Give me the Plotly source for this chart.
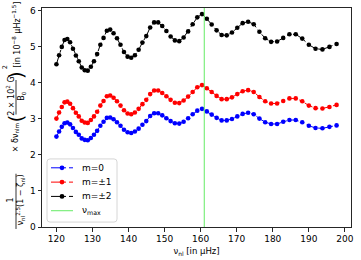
import plotly.graph_objects as go

# ---- data ----
nu = [120.00, 120.74, 121.49, 122.25, 123.02, 123.80, 124.59, 125.39, 126.20, 127.02,
      127.85, 128.69, 129.55, 130.41, 131.29, 132.18, 133.07, 133.99, 134.91, 135.85,
      136.80, 137.77, 138.74, 139.74, 140.74, 141.76, 142.80, 143.85, 144.92, 146.00,
      147.10, 148.22, 149.35, 150.50, 151.67, 152.85, 154.06, 155.28, 156.53, 157.79,
      159.07, 160.38, 161.71, 163.06, 164.43, 165.82, 167.24, 168.69, 170.16, 171.65,
      173.17, 174.72, 176.30, 177.90, 179.54, 181.20, 182.90, 184.62, 186.38, 188.18,
      190.01, 191.87, 193.78, 195.72, 197.70]

split_m0 = [2.51, 2.65, 2.78, 2.88, 2.90, 2.85, 2.75, 2.64, 2.56, 2.46,
            2.42, 2.41, 2.47, 2.56, 2.67, 2.81, 2.92, 3.03, 3.04, 2.99,
            2.91, 2.81, 2.70, 2.63, 2.61, 2.65, 2.73, 2.84, 2.94, 3.08,
            3.16, 3.16, 3.10, 3.02, 2.94, 2.88, 2.87, 2.92, 3.02, 3.13,
            3.23, 3.28, 3.21, 3.12, 3.03, 2.96, 2.96, 3.00, 3.07, 3.14,
            3.17, 3.13, 3.01, 2.91, 2.86, 2.86, 2.92, 2.97, 2.97, 2.91,
            2.81, 2.75, 2.74, 2.78, 2.82]

split_m1 = [3.01, 3.18, 3.33, 3.46, 3.48, 3.42, 3.30, 3.17, 3.07, 2.95,
            2.90, 2.89, 2.97, 3.07, 3.20, 3.37, 3.50, 3.63, 3.65, 3.59,
            3.49, 3.37, 3.24, 3.15, 3.13, 3.18, 3.28, 3.41, 3.53, 3.69,
            3.79, 3.79, 3.72, 3.63, 3.53, 3.45, 3.44, 3.51, 3.62, 3.75,
            3.88, 3.94, 3.85, 3.75, 3.64, 3.55, 3.55, 3.60, 3.69, 3.77,
            3.80, 3.75, 3.61, 3.49, 3.43, 3.43, 3.50, 3.57, 3.57, 3.49,
            3.37, 3.30, 3.29, 3.33, 3.39]

split_m2 = [4.52, 4.77, 5.00, 5.19, 5.22, 5.13, 4.95, 4.76, 4.60, 4.43,
            4.35, 4.34, 4.45, 4.60, 4.80, 5.06, 5.25, 5.45, 5.48, 5.38,
            5.24, 5.06, 4.86, 4.73, 4.70, 4.77, 4.92, 5.12, 5.30, 5.54,
            5.68, 5.68, 5.58, 5.44, 5.29, 5.18, 5.16, 5.26, 5.43, 5.63,
            5.82, 5.91, 5.78, 5.62, 5.46, 5.33, 5.32, 5.40, 5.53, 5.66,
            5.70, 5.63, 5.42, 5.24, 5.14, 5.15, 5.25, 5.35, 5.35, 5.23,
            5.06, 4.95, 4.93, 5.00, 5.08]

nu_max = 161.0
series_names = ["m=0", "m=±1", "m=±2"]
series_colors = ["#0000ff", "#ff0000", "#000000"]
numax_name = "ν<sub>max</sub>"
numax_color = "rgb(100,235,100)"
x_ticks = [120, 130, 140, 150, 160, 170, 180, 190, 200]
y_ticks = [0, 1, 2, 3, 4, 5, 6]
x_range = [116.0, 201.7]
y_range = [0.0, 6.08]

# ---- figure ----
W, H = 361, 260
L, R, T, B = 42, 10, 6, 32
pw, ph = W - L - R, H - T - B

def px_x(px):
    return (px - L) / pw

def px_y(py):
    return (H - B - py) / ph

fig = go.Figure()
for name, col, ys in zip(series_names, series_colors, [split_m0, split_m1, split_m2]):
    fig.add_trace(go.Scatter(
        x=nu, y=ys, name=name, mode="lines+markers", showlegend=False,
        line=dict(color=col, width=1, dash="dashdot"),
        marker=dict(color=col, size=4.6),
    ))

fig.add_trace(go.Scatter(
    x=[nu_max, nu_max], y=y_range, name=numax_name, mode="lines", showlegend=False,
    line=dict(color=numax_color, width=1),
))

font_main = "DejaVu Sans, Arial, sans-serif"
ann_font = dict(family=font_main, size=8, color="black")
annotations = [
    dict(text="1<br>ν<sub>nl</sub><sup>2.5</sup>(1 − ζ<sub>nl</sub>)", x=px_x(16), y=px_y(201), font=ann_font),
    dict(text="× δν<sub>nlm</sub>", x=px_x(16), y=px_y(138), font=ann_font),
    dict(text="(", x=px_x(16), y=px_y(118), font=dict(family=font_main, size=20, color="black")),
    dict(text="2 × 10<sup>2</sup> G<br>B<sub>0</sub>", x=px_x(16), y=px_y(96), font=ann_font),
    dict(text=")", x=px_x(16), y=px_y(74), font=dict(family=font_main, size=20, color="black")),
    dict(text="2", x=px_x(5), y=px_y(66), font=dict(family=font_main, size=6.5, color="black")),
    dict(text="[in 10<sup>−8</sup> µHz<sup>−1.5</sup>]", x=px_x(16), y=px_y(33), font=ann_font),
]
for a in annotations:
    a.update(textangle=-90, xanchor="center", yanchor="middle")

shapes = [
    dict(type="line", x0=px_x(16), x1=px_x(16), y0=px_y(174), y1=px_y(230),
         line=dict(color="black", width=0.8)),
    dict(type="line", x0=px_x(16), x1=px_x(16), y0=px_y(79), y1=px_y(114),
         line=dict(color="black", width=0.8)),
]

# ---- hand-built legend (matplotlib-like compact box) ----
lx0, lx1, ly0, ly1 = 47, 117, 159, 223
r = 3
path = (f"M {px_x(lx0 + r)} {px_y(ly0)} L {px_x(lx1 - r)} {px_y(ly0)} "
        f"Q {px_x(lx1)} {px_y(ly0)} {px_x(lx1)} {px_y(ly0 + r)} "
        f"L {px_x(lx1)} {px_y(ly1 - r)} Q {px_x(lx1)} {px_y(ly1)} {px_x(lx1 - r)} {px_y(ly1)} "
        f"L {px_x(lx0 + r)} {px_y(ly1)} Q {px_x(lx0)} {px_y(ly1)} {px_x(lx0)} {px_y(ly1 - r)} "
        f"L {px_x(lx0)} {px_y(ly0 + r)} Q {px_x(lx0)} {px_y(ly0)} {px_x(lx0 + r)} {px_y(ly0)} Z")
shapes.append(dict(type="path", path=path, fillcolor="rgba(255,255,255,0.8)",
                   line=dict(color="#cccccc", width=0.8), layer="above"))

entry_y = [168, 182.5, 197, 211.5]
labels = series_names + [numax_name]
colors = series_colors + [numax_color]
for i, (ey, lab, col) in enumerate(zip(entry_y, labels, colors)):
    is_series = i < 3
    shapes.append(dict(type="line", x0=px_x(51), x1=px_x(73), y0=px_y(ey), y1=px_y(ey),
                       line=dict(color=col, width=1, dash="dashdot" if is_series else "solid"),
                       layer="above"))
    if is_series:
        rad = 2.4
        shapes.append(dict(type="circle", x0=px_x(62 - rad), x1=px_x(62 + rad),
                           y0=px_y(ey + rad), y1=px_y(ey - rad),
                           fillcolor=col, line=dict(color=col, width=0), layer="above"))
    annotations.append(dict(text=lab, x=px_x(80), y=px_y(ey), xanchor="left", yanchor="middle",
                            font=dict(family=font_main, size=9, color="black")))

for a in annotations:
    a.update(xref="paper", yref="paper", showarrow=False)
for s in shapes:
    s.update(xref="paper", yref="paper")

axis_common = dict(
    showline=True, linecolor="#262626", linewidth=1, mirror=True,
    ticks="outside", ticklen=3.5, tickwidth=0.8, tickcolor="#262626",
    showgrid=False, zeroline=False,
    tickfont=dict(family=font_main, size=9, color="black"),
)

fig.update_layout(
    width=W, height=H, autosize=False,
    margin=dict(l=L, r=R, t=T, b=B),
    paper_bgcolor="white", plot_bgcolor="white",
    font=dict(family=font_main, size=9, color="black"),
    showlegend=False,
    xaxis=dict(range=x_range, tickvals=x_ticks, **axis_common,
               title=dict(text="ν<sub>nl</sub> [in µHz]", font=dict(size=8.5), standoff=4)),
    yaxis=dict(range=y_range, tickvals=y_ticks, **axis_common),
    annotations=annotations,
    shapes=shapes,
)

fig.write_html("out.html", config={"displayModeBar": False},
               post_script="document.body.style.margin='0';")
